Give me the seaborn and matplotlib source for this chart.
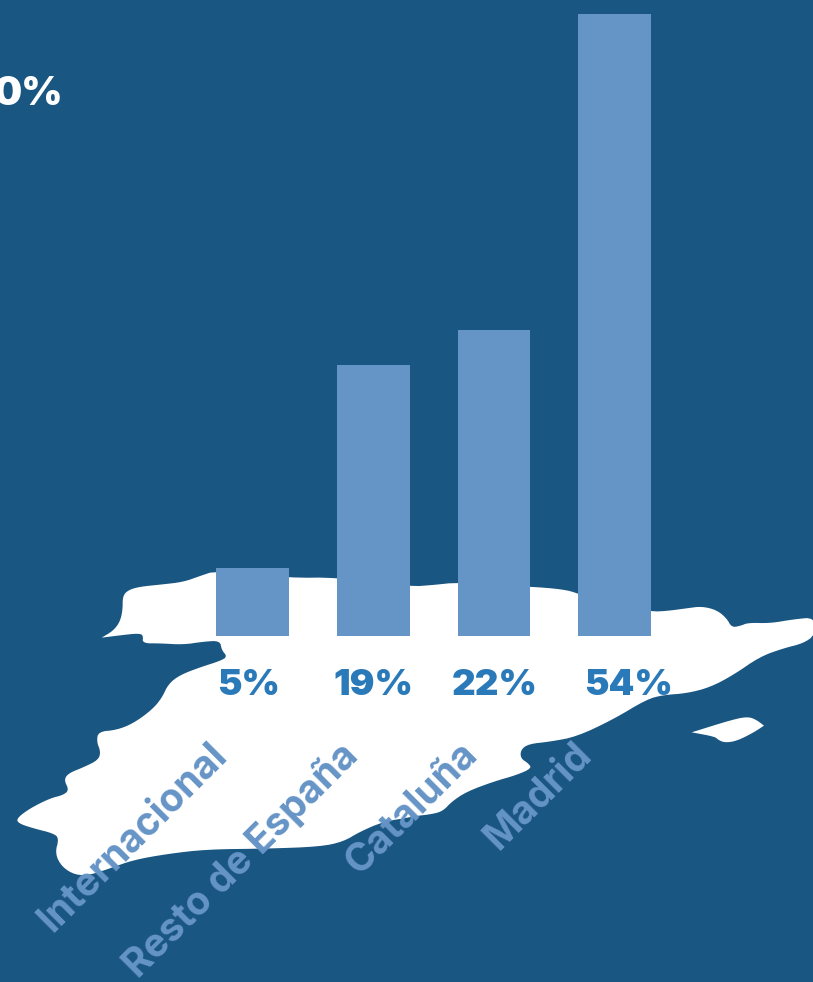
import numpy as np
import pandas as pd
import matplotlib
matplotlib.use("Agg")
import matplotlib.pyplot as plt
from matplotlib.patches import Polygon
from matplotlib.transforms import ScaledTranslation
import seaborn as sns

# --- data ---
categories = ["Internacional", "Resto de España", "Cataluña", "Madrid"]
bar_values = [5.9, 23.5, 26.6, 54.0]
value_labels = ["5%", "19%", "22%", "54%"]
clipped_label = "0%"

# --- colours ---
BG = "#1a5682"
BAR = "#6594c6"
PCT = "#2a7ab9"
W, H = 813, 982

# --- decorative map outline, in zoomed crop pixels (3x) ---
left_part = [(648,32),(600,48),(550,66),(480,74),(420,80),(385,90),(368,108),(368,150),(360,185),(340,212),(305,233),(305,233),(305,233),
 (360,226),(415,220),(430,226),(427,250),(480,250),(550,254),(610,245),(660,242),(665,270),(682,290),(660,303),
 (600,322),(540,345),(505,372),(485,415),(455,450),(400,490),(350,510),(295,515),(290,545),(302,575),(295,600),
 (250,622),(205,640),(192,660),(207,690),(190,705),(150,715),(90,745),(50,775),(55,790),(100,805),(160,820),
 (177,835),(165,880),(185,920),(225,945),(270,945),(330,925),(400,900),(500,882),(620,868),(800,866),(960,860),
 (1030,845),(1080,815),(1150,785),(1230,772)]
right_part = [(30,770),(100,762),(130,752),(155,725),(200,695),(280,665),(350,645),(395,625),(385,610),(362,595),
 (362,570),(385,552),(450,545),(530,530),(640,478),(740,418),(790,405),(860,400),(930,382),(1000,345),(1080,290),
 (1150,265),(1210,250),(1245,225),(1245,172),(1180,178),(1110,190),(1045,188),(1020,198),(995,202),(980,175),
 (950,150),(905,139),(860,145),(800,153),(753,155),(600,130),(534,100),(490,88),(393,80),(340,80),(174,67),(100,75),(30,80)]
top_back = [(1011,52),(867,54)]
island = [(875,517),(875,517),(875,517),(1000,478),(1045,470),(1070,480),(1092,497),(1092,497),(1060,518),(1010,543),(975,548),(955,540),(945,530)]

def to_px(pts, x0):
    return [(x0 + x / 3, 560 + y / 3) for x, y in pts]

def chaikin(pts, n=2):
    p = np.array(pts, float)
    for _ in range(n):
        q = np.roll(p, -1, axis=0)
        p = np.column_stack([0.75 * p + 0.25 * q, 0.25 * p + 0.75 * q]).reshape(-1, 2)
    return p

sns.set_theme(style="white")
plt.rcParams["font.family"] = ["Inter", "DejaVu Sans"]

fig = plt.figure(figsize=(W / 100, H / 100), dpi=100, facecolor=BG)

# background layer in pixels, holding the map and the clipped label
bg = fig.add_axes([0, 0, 1, 1], facecolor=BG)
bg.set_xlim(0, W)
bg.set_ylim(H, 0)
bg.axis("off")
land = to_px(left_part, 0) + to_px(right_part, 400) + to_px(top_back, 0)
bg.add_patch(Polygon(chaikin(land), closed=True, fc="white", ec="none"))
bg.add_patch(Polygon(chaikin(to_px(island, 400)), closed=True, fc="white", ec="none"))
bg.text(63, 90, clipped_label, color="white", fontsize=28.5, fontweight="black", ha="right", va="center_baseline")

# chart layer: x spans categories -0.5..3.5 and y spans 0..54
left, right, top, bottom = 192.3, 675.0, 14, 636
ax = fig.add_axes([left / W, 1 - bottom / H, (right - left) / W, (bottom - top) / H], facecolor="none")
df = pd.DataFrame({"cat": categories, "val": bar_values})
sns.barplot(data=df, x="cat", y="val", color=BAR, saturation=1, width=0.603, ax=ax, zorder=3, linewidth=0)
ax.set_xlim(-0.5, 3.5)
ax.set_ylim(0, max(bar_values))
ax.set_xlabel("")
ax.set_ylabel("")
ax.set_yticks([])
sns.despine(ax=ax, left=True, bottom=True)
ax.tick_params(axis="x", length=0, pad=72)
ax.set_xticks(range(4))
ax.set_xticklabels(categories, rotation=45, ha="right", rotation_mode="anchor",
                   color=BAR, fontsize=28, fontweight="bold")
label_shift = [(-44, 0), (-35, 0), (-35, 0), (-42, 0)]
for lab, (dx, dy) in zip(ax.get_xticklabels(), label_shift):
    lab.set_transform(lab.get_transform() + ScaledTranslation(dx / 100, dy / 100, fig.dpi_scale_trans))

# value labels under the bars
value_shift = [-4.5, 0, 1, 14]
for i, (txt, dx) in enumerate(zip(value_labels, value_shift)):
    ax.annotate(txt, xy=(i, 0), xytext=(dx * 0.72, -46 * 0.72), textcoords="offset points",
                color=PCT, fontsize=26.5, fontweight="black", ha="center", va="center_baseline",
                annotation_clip=False)

fig.savefig("out.png", dpi=100, facecolor=BG)
